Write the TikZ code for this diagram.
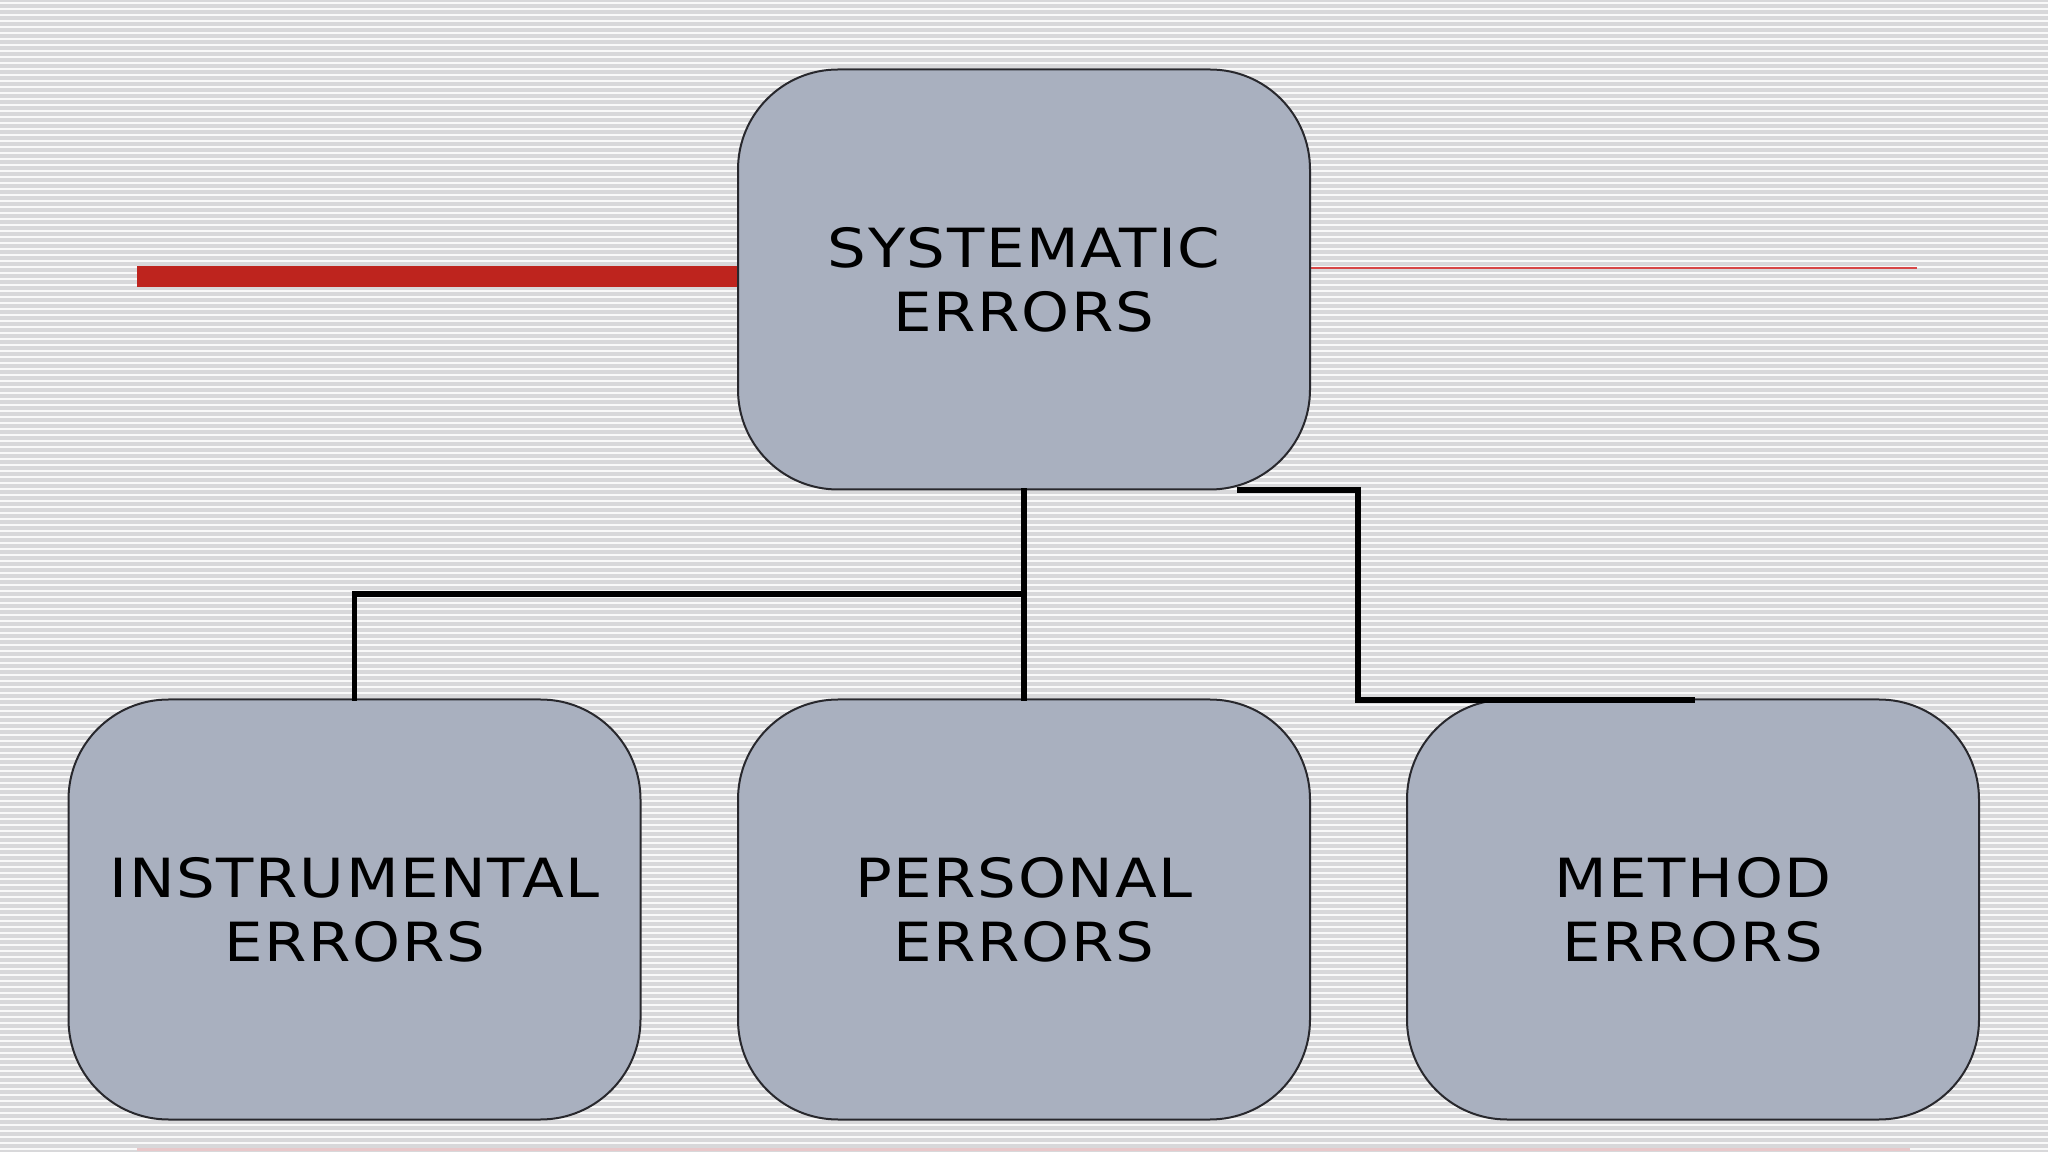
\documentclass[tikz,border=0pt]{standalone}
\usepackage{fontspec}
\setmainfont[FakeStretch=1.13,LetterSpace=3]{DejaVu Sans}
\definecolor{bgg}{RGB}{216,216,218}
\definecolor{boxfill}{RGB}{169,176,191}
\definecolor{boxline}{RGB}{40,40,45}
\definecolor{redthick}{RGB}{190,36,30}
\definecolor{redthin}{RGB}{215,70,70}
\definecolor{pinkline}{RGB}{232,200,202}
\begin{document}
\begin{tikzpicture}[x=1pt,y=1pt,
  errbox/.style={draw=boxline, line width=2pt, fill=boxfill, rounded corners=100pt,
    minimum width=572pt, minimum height=420pt, align=center,
    font=\fontsize{54}{64}\selectfont, text=black},
  conn/.style={draw=black, line width=5.5pt, line cap=rect}]
\useasboundingbox (0,0) rectangle (2048,1152);
\fill[bgg] (0,0) rectangle (2048,1152);
\foreach \i in {0,...,191} {
  \draw[white, line width=2.4pt, opacity=0.85] (0,{3+6*\i}) -- (2048,{3+6*\i});
}
% decorative red lines
\fill[redthick] (137,865) rectangle (740,886);
\draw[redthin, line width=2pt] (1310,884) -- (1917,884);
\draw[pinkline, line width=3pt] (137,3) -- (1910,3);
% boxes
\node[errbox] (sys) at (1024,872.5) {SYSTEMATIC\\ERRORS};
\node[errbox] (ins) at (354.5,242.5) {INSTRUMENTAL\\ERRORS};
\node[errbox] (per) at (1024,242.5) {PERSONAL\\ERRORS};
\node[errbox] (met) at (1693,242.5) {METHOD\\ERRORS};
% connectors
\coordinate (j1) at (1024,558);
\coordinate (a1) at (1240,662);
\coordinate (a2) at (1358,662);
\coordinate (a3) at (1358,452);
\coordinate (a4) at (1692,452);
\draw[conn] (sys.south) -- (per.north);
\draw[conn] (j1) -| (ins.north);
\draw[conn] (a1) -- (a2) -- (a3) -- (a4);
\end{tikzpicture}
\end{document}
